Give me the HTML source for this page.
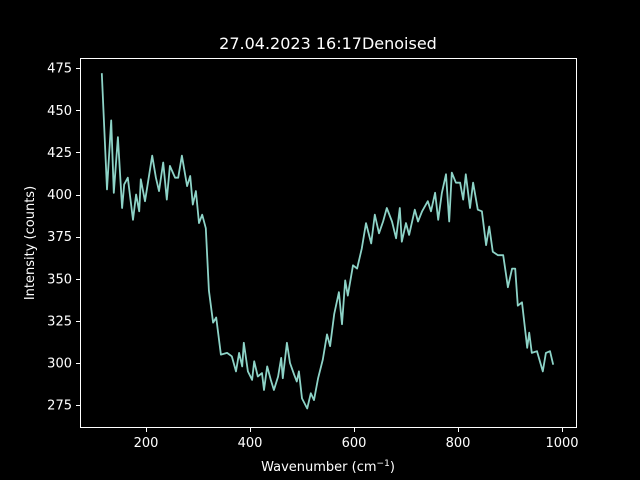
<!DOCTYPE html>
<html><head><meta charset="utf-8"><style>
body{margin:0;background:#000;}
svg{display:block;font-family:"DejaVu Sans","Liberation Sans",sans-serif;}
</style></head><body>
<svg id="chart" width="640" height="480">
<rect width="640" height="480" fill="#000"/>
<text x="328" y="49" fill="#fff" font-size="16" text-anchor="middle">27.04.2023 16:17Denoised</text>
<rect x="80.5" y="58.5" width="496" height="369" fill="none" stroke="#fff" stroke-width="1"/>
<g id="xticks"></g>
<g id="yticks"></g>
<text x="328" y="471" fill="#fff" font-size="13" text-anchor="middle">Wavenumber (cm<tspan dy="-5" font-size="9">−1</tspan><tspan dy="5">)</tspan></text>
<text transform="translate(34,243) rotate(-90)" fill="#fff" font-size="13" text-anchor="middle">Intensity (counts)</text>
<path id="series" fill="none" stroke="#8dd3c7" stroke-width="1.8" stroke-linejoin="round"/>
</svg>
<script>
const wavenumbers=[115,125,133,138,146,154,158,165,175,181,187,190,198,212,219,225,233,240,246,256,262,269,279,285,290,296,302,308,315,321,329,335,344,356,365,373,379,385,388,396,404,408,415,423,427,433,440,446,454,460,463,471,477,485,490,494,500,510,517,523,531,540,548,554,562,571,577,583,588,598,606,615,623,633,640,648,656,663,673,681,688,692,700,706,717,723,731,742,748,756,762,769,777,783,788,796,804,810,815,823,829,838,846,854,860,867,877,887,896,904,910,915,923,933,937,942,952,963,969,977,983];
const intensities=[472,403,444,401,434,392,406,410,385,400,390,409,396,423,410,402,419,397,417,410,410,423,405,411,394,402,383,388,380,343,324,327,305,306,304,295,306,298,312,295,290,301,292,294,284,298,290,284,292,303,291,312,300,293,289,295,279,273,282,278,291,302,317,310,329,342,323,349,340,358,356,368,383,371,388,377,384,392,384,374,392,372,383,376,391,384,390,396,390,401,385,401,412,384,413,407,407,397,412,392,407,391,390,370,381,366,364,364,345,356,356,334,336,309,318,306,307,295,306,307,299];
const xTicks=[200,400,600,800,1000];
const yTicks=[275,300,325,350,375,400,425,450,475];
function xs(v){return 42+v*0.52;}
function ys(v){return 363-(v-300)*1.685;}
const NS="http://www.w3.org/2000/svg";
const xg=document.getElementById('xticks'), yg=document.getElementById('yticks');
xTicks.forEach(t=>{
  const l=document.createElementNS(NS,'line');
  const px=Math.round(xs(t))+0.5;
  l.setAttribute('x1',px);l.setAttribute('x2',px);l.setAttribute('y1',428);l.setAttribute('y2',432);l.setAttribute('stroke','#fff');
  
  
  xg.appendChild(l);
  const tx=document.createElementNS(NS,'text');
  tx.setAttribute('x',xs(t));tx.setAttribute('y',447);tx.setAttribute('fill','#fff');tx.setAttribute('font-size','13');tx.setAttribute('text-anchor','middle');
  tx.textContent=t;
  
  
  xg.appendChild(tx);
});
yTicks.forEach(t=>{
  const l=document.createElementNS(NS,'line');
  const py=Math.round(ys(t))+0.5;
  l.setAttribute('x1',76);l.setAttribute('x2',80);l.setAttribute('y1',py);l.setAttribute('y2',py);l.setAttribute('stroke','#fff');
  
  
  yg.appendChild(l);
  const tx=document.createElementNS(NS,'text');
  tx.setAttribute('x',72);tx.setAttribute('y',ys(t)+4.5);tx.setAttribute('fill','#fff');tx.setAttribute('font-size','13');tx.setAttribute('text-anchor','end');
  tx.textContent=t;
  
  
  yg.appendChild(tx);
});
let d='';
wavenumbers.forEach((w,i)=>{d+=(i?'L':'M')+xs(w).toFixed(1)+','+ys(intensities[i]).toFixed(1);});
document.getElementById('series').setAttribute('d',d);
</script>
</body></html>
